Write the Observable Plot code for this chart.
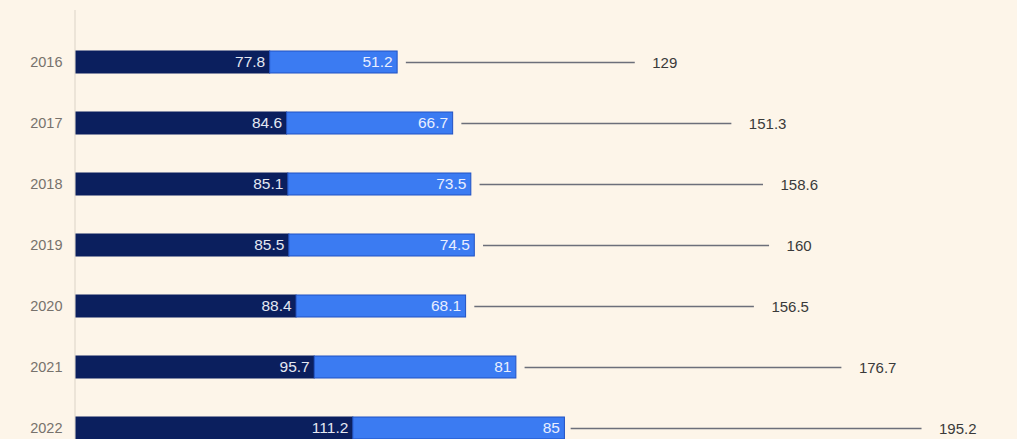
<!DOCTYPE html>
<html>
<head>
<meta charset="utf-8">
<script src="https://cdn.jsdelivr.net/npm/d3@7"></script>
<script src="https://cdn.jsdelivr.net/npm/@observablehq/plot@0.6"></script>
<style>
  html, body { margin: 0; padding: 0; background: #fdf5e9; }
  #chart svg { display: block; background: #fdf5e9; }
</style>
</head>
<body>
<div id="chart"></div>
<script>
const years = ["2016", "2017", "2018", "2019", "2020", "2021", "2022"];
const darkValues = [77.8, 84.6, 85.1, 85.5, 88.4, 95.7, 111.2];
const lightValues = [51.2, 66.7, 73.5, 74.5, 68.1, 81, 85];
const totals = [129, 151.3, 158.6, 160, 156.5, 176.7, 195.2];

const segs = [];
years.forEach((y, i) => {
  segs.push({year: y, part: "dark", x1: 0, x2: darkValues[i], v: darkValues[i]});
  segs.push({year: y, part: "light", x1: darkValues[i], x2: darkValues[i] + lightValues[i], v: lightValues[i]});
});
const tot = years.map((y, i) => ({year: y, total: totals[i], start: totals[i] + 3.5, end: totals[i] * 1.74}));

const chart = Plot.plot({
  width: 1017,
  height: 439,
  marginLeft: 76,
  marginRight: 0,
  marginTop: 0,
  marginBottom: 0,
  style: {background: "#fdf5e9", fontFamily: "Liberation Sans, Arial, sans-serif"},
  x: {domain: [0, 378], axis: null},
  y: {domain: years, paddingInner: 0.642, paddingOuter: 0.39, align: 1, label: null},
  marks: [
    Plot.ruleX([0], {stroke: "#ece4d8", strokeWidth: 2, dx: -1.5, insetTop: 10}),
    Plot.axisY({tickSize: 0, tickPadding: 14, fontSize: 14.5, color: "#77726c", label: null, style: {letterSpacing: "2.5px"}}),
    Plot.barX(segs, {
      y: "year", x1: "x1", x2: "x2",
      fill: d => d.part === "dark" ? "#0b1f5e" : "#3b7bf2",
      stroke: d => d.part === "dark" ? "#0b1f5e" : "#2152c4",
      strokeWidth: 1
    }),
    Plot.text(segs, {
      y: "year", x: "x2", text: d => String(d.v),
      textAnchor: "end", dx: -5, fill: d => d.part === "dark" ? "#e4e8f2" : "#e8eeff",
      fontSize: 15.5
    }),
    Plot.ruleY(tot, {y: "year", x1: "start", x2: "end", stroke: "#6c6f7a", strokeWidth: 1.5}),
    Plot.text(tot, {
      y: "year", x: "end", text: d => String(d.total),
      textAnchor: "start", dx: 17, dy: 1, fill: "#3a3a3a", fontSize: 15
    })
  ]
});
document.getElementById("chart").append(chart);
</script>
</body>
</html>
